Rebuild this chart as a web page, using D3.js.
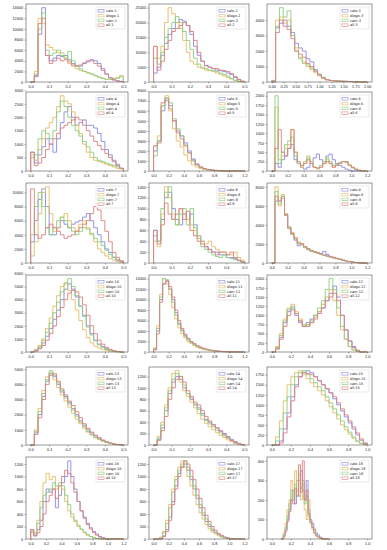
<!DOCTYPE html>
<html>
<head>
<meta charset="utf-8">
<script src="https://cdn.jsdelivr.net/npm/d3@7"></script>
<style>
  body { margin: 0; background: #fff; }
  svg { display: block; font-family: "DejaVu Sans", sans-serif; }
</style>
</head>
<body>
<div id="container"></div>
<script>
// series names and colours
var seriesNames = ["calo", "dlogo", "cam", "all"]
var seriesColors = ["#8a8ae0", "#e6bc66", "#8ccf7e", "#de7f7f"]

// per panel axes
var xMax = [0.5, 0.5, 2.0, 0.5, 1.2, 1.2, 0.5, 0.5, 1.2, 0.5, 1.2, 1.0, 0.5, 0.5, 1.0, 1.2, 1.2, 1.0]
var xTickStep = [0.1, 0.1, 0.25, 0.1, 0.2, 0.2, 0.1, 0.1, 0.2, 0.1, 0.2, 0.2, 0.1, 0.1, 0.2, 0.2, 0.2, 0.2]
var xTickDigits = [1, 1, 2, 1, 1, 1, 1, 1, 1, 1, 1, 1, 1, 1, 1, 1, 1, 1]
var yTickMax = [14000, 25000, 4000, 3000, 8000, 2000, 10000, 1400, 8000, 6000, 14000, 2000, 5000, 1200, 1750, 1200, 1200, 400]
var yTickStep = [2000, 5000, 1000, 500, 1000, 250, 2000, 200, 2000, 1000, 2000, 250, 1000, 200, 250, 200, 200, 100]
var binStart = [0, 0, 0, 0, 0, 0, 0, 0, 0, 0, 0, 0, 0, 0, 0, 0, 0, 0.1]
var binWidth = [0.02, 0.02, 0.08, 0.02, 0.05, 0.04, 0.02, 0.02, 0.04, 0.02, 0.04, 0.04, 0.02, 0.02, 0.04, 0.04, 0.04, 0.02]

var caloCounts = [
  [0,1000,9000,14000,5000,4000,4500,5000,4800,5000,4200,3500,3000,3000,3500,3800,4200,4000,3500,2500,1500,800,400,200,100],
  [3000,5000,9000,13000,16000,18000,20000,21000,20500,19000,16000,12000,9000,7000,5500,5000,4500,4000,3800,3500,3000,2500,1500,800,200],
  [0,3500,3800,4000,3600,3200,2500,2200,2000,1500,1300,800,500,300,150,100,80,60,50,40,30,20,10,0,0],
  [700,300,600,900,1200,1000,700,1200,1800,2200,2400,2000,1700,1800,1900,1700,1700,1600,1400,1100,800,600,400,250,100],
  [2000,3000,6000,7000,6500,5000,4000,3500,2800,2000,1200,700,400,250,150,100,60,30,10,0,0,0,0,0],
  [0,200,100,300,400,600,700,300,200,100,50,100,200,350,450,300,200,400,450,300,200,150,100,50,20,0,0,0,0,0],
  [3000,6000,9000,10500,8000,4000,4000,5000,6000,5500,5000,5500,5800,6000,6500,7000,6000,5000,4000,3000,2000,1500,800,400,200],
  [600,400,800,1200,1300,1000,800,700,900,800,900,700,500,400,300,250,200,200,150,150,100,100,80,50,20],
  [0,6500,6500,7000,5000,3800,3000,2400,1800,2000,1700,1400,1300,1200,1100,1000,1200,900,700,600,500,400,300,200,150,100,50,20,0,0],
  [0,100,300,700,1200,1800,2500,3200,4000,4800,5200,4800,4200,3500,2800,2000,1400,900,600,400,250,150,80,30,0],
  [500,4000,10000,13000,13500,12000,10000,7500,5500,4200,3200,2500,2000,1500,1200,900,700,500,400,300,200,150,100,80,50,30,20,10,0,0],
  [0,100,400,800,1100,1200,1000,800,700,800,900,1000,1100,1200,1400,1600,1800,1500,1000,600,300,150,50,0,0],
  [0,800,2000,3200,4200,4700,4500,4000,3500,3200,2800,2400,2000,1600,1300,1000,800,600,450,300,200,120,60,30,10],
  [0,100,300,600,900,1100,1200,1150,1000,900,800,700,650,550,450,400,350,300,250,200,150,100,60,30,10],
  [0,0,100,400,800,1200,1500,1700,1800,1850,1800,1700,1600,1500,1400,1300,1150,1000,850,700,550,400,250,120,40],
  [150,50,150,300,600,800,750,800,500,700,900,1000,1250,1000,800,600,450,350,250,180,120,80,40,20,10,0,0,0,0,0],
  [0,0,0,50,150,350,600,850,1050,1150,1200,1100,950,800,650,500,380,280,200,140,100,70,50,30,20,10,0,0,0,0],
  [0,20,50,100,150,200,250,180,300,220,350,250,200,300,150,100,80,50,30,20,10,5,0,0,0]
]

var dlogoCounts = [
  [0,2000,12000,11000,7000,6500,6000,5500,5500,4500,3500,3000,2500,2200,2000,1800,1500,1200,900,700,500,500,700,800,1200],
  [12000,8000,12000,20000,25000,23000,20000,18000,14000,10000,7000,6000,5000,4500,4000,3800,3500,3000,2500,2000,1500,1000,500,200,100],
  [100,4000,4200,3800,4000,3000,2200,1600,1300,1000,800,600,400,250,150,100,80,60,50,40,30,20,10,0,0],
  [600,400,800,1200,1600,1800,2000,2400,2800,2600,2500,2200,1700,1400,1000,700,500,400,350,300,250,200,150,100,80],
  [2500,3500,6500,7500,6000,4200,3000,2400,1600,1000,600,400,250,150,100,60,30,10,0,0,0,0,0,0],
  [0,1700,300,400,600,700,1100,500,200,100,200,400,250,100,50,100,200,300,200,100,150,200,250,250,150,100,50,20,0,0],
  [1000,3000,7000,10000,10800,7000,4500,5000,6500,7000,6000,5000,4500,5500,6000,5000,4000,3000,2000,1500,1000,600,400,200,100],
  [400,300,900,1400,1200,900,700,1000,900,800,700,600,500,400,350,400,300,250,200,200,150,150,200,100,50],
  [0,8000,6000,7200,5200,3800,3200,2700,2200,2000,1700,1500,1300,1200,1100,900,800,700,650,600,500,400,300,200,150,100,50,20,0,0],
  [0,200,500,1000,1800,2600,3500,4300,5000,5300,4700,4000,3200,2400,1700,1100,700,450,300,200,120,60,30,10,0],
  [800,5000,11000,14000,13000,11000,8500,6300,4600,3500,2700,2000,1600,1200,900,700,500,380,280,200,150,100,70,50,30,20,10,0,0,0],
  [0,150,500,900,1200,1300,1100,900,750,700,800,950,1100,1300,1500,1700,1400,1000,600,350,150,60,20,0,0],
  [0,1000,2400,3600,4500,4800,4300,3800,3300,2900,2500,2100,1700,1400,1100,850,650,480,350,250,160,100,50,20,10],
  [0,150,400,700,1000,1250,1300,1100,950,850,750,650,550,450,380,320,270,220,170,130,90,60,30,15,5],
  [0,200,600,1100,1500,1700,1800,1850,1750,1650,1550,1450,1350,1250,1100,950,800,650,500,380,270,170,90,40,10],
  [100,100,300,600,900,1050,950,1000,800,850,800,600,450,350,280,200,150,100,60,40,20,10,0,0,0,0,0,0,0,0],
  [0,0,30,120,300,550,800,1000,1150,1250,1150,1000,850,700,550,420,320,230,160,110,80,50,30,20,10,0,0,0,0,0],
  [0,30,80,150,200,300,220,350,250,300,200,280,150,100,200,80,50,30,20,10,5,0,0,0,0]
]

var camCounts = [
  [0,1500,10000,13000,6000,5000,5500,6000,5000,4500,5800,4000,3000,2500,2000,1700,1500,1200,900,700,500,500,600,700,1000],
  [8000,6000,10000,15000,18000,20000,22000,20000,17000,14000,11000,8000,6000,5000,4500,4000,3800,3500,3000,2500,2000,1200,600,300,100],
  [100,3600,4800,4200,4600,3000,2000,1500,1200,1100,900,700,500,300,150,100,80,60,50,40,30,20,10,0,0],
  [500,600,1200,1500,1400,1200,1500,2200,2600,2400,2000,1700,1500,1300,1100,900,700,500,400,350,300,250,200,150,100],
  [1500,3000,6500,7300,6800,5200,4200,3500,2600,1800,1000,600,350,200,120,80,50,20,10,0,0,0,0,0],
  [0,2000,200,500,700,800,900,400,200,150,250,350,200,100,80,150,250,350,250,150,180,230,250,220,150,80,40,10,0,0],
  [4000,8000,10000,8000,5000,4000,5000,6000,6500,6000,5000,4500,4000,4500,5000,4800,4200,3500,3000,2500,1800,1200,800,500,300],
  [500,400,1000,1300,1400,800,700,900,1000,700,1000,650,450,300,250,200,150,120,100,150,100,80,60,40,20],
  [0,7500,6200,7000,5000,3700,3000,2500,2000,1900,1600,1400,1200,1100,1000,900,800,700,600,500,450,400,300,200,150,100,50,20,0,0],
  [0,150,400,900,1500,2200,3000,3800,4600,5200,5600,5000,4300,3500,2700,1900,1300,850,550,350,200,120,60,20,0],
  [600,4500,10500,14000,13800,12000,9500,7000,5200,4000,3000,2300,1800,1400,1100,800,600,450,350,250,180,130,90,60,40,20,10,0,0,0],
  [0,120,450,850,1150,1250,1050,850,700,750,850,1000,1200,1400,1700,2000,1700,1200,700,350,150,60,20,0,0],
  [0,900,2200,3400,4300,4900,4600,4100,3600,3100,2700,2300,1900,1500,1200,900,700,500,380,260,170,110,60,30,10],
  [0,120,350,650,950,1150,1250,1200,1050,900,820,720,620,520,430,370,320,260,210,160,120,80,40,20,5],
  [0,100,400,800,1200,1500,1700,1800,1850,1750,1650,1550,1450,1350,1200,1050,900,750,600,450,320,200,100,40,10],
  [120,80,250,500,700,750,800,900,850,900,850,700,550,400,300,220,160,110,70,40,20,10,0,0,0,0,0,0,0,0],
  [0,0,20,100,250,500,750,950,1100,1200,1250,1150,1000,850,700,550,420,320,230,160,110,70,40,20,10,0,0,0,0,0],
  [0,20,60,120,180,250,200,280,220,330,260,300,180,220,120,80,60,40,20,10,5,0,0,0,0]
]

var allCounts = [
  [0,1200,11000,12000,5000,3500,4000,4500,4000,4200,3800,3200,3000,3200,3600,4000,4000,3500,3000,2200,1500,800,400,200,100],
  [12000,4000,7000,11000,14000,17000,18000,19000,20000,19000,17000,14000,10000,7000,5500,5000,4500,4500,4000,3800,3500,2800,1800,900,300],
  [50,3200,4000,3600,3400,2800,2000,1800,1600,1200,1000,700,450,250,150,100,80,60,50,40,30,20,10,0,0],
  [700,200,300,500,800,1000,1200,1400,1600,1700,1800,1900,2000,1900,1700,1500,1300,1100,950,800,650,500,350,200,100],
  [2500,2800,6800,7200,6200,5000,3800,3200,2500,1800,1100,650,400,250,150,100,60,30,10,0,0,0,0,0],
  [0,600,1100,500,400,600,1100,500,250,150,200,300,200,100,80,100,200,250,200,100,150,200,250,250,160,100,50,20,0,0],
  [10500,4000,3500,4000,5000,5500,5000,4500,4000,3500,3800,4000,4500,5000,5500,6000,7000,8000,7500,6000,4500,3000,1500,800,300],
  [600,350,700,1100,900,800,900,1000,800,950,600,500,400,350,300,250,200,150,200,200,150,200,100,50,20],
  [0,7000,6500,6800,5100,3600,3100,2600,2100,2000,1700,1500,1300,1200,1050,950,850,750,650,550,450,380,280,200,150,100,50,20,0,0],
  [0,80,250,500,900,1400,2000,2700,3400,4000,4500,4700,4600,4200,3600,2800,2000,1400,900,600,350,200,100,40,0],
  [400,3500,9500,13000,13600,12500,10500,8000,6000,4500,3400,2600,2000,1600,1200,950,720,520,400,300,220,160,110,80,50,30,20,10,0,0],
  [0,80,350,700,1000,1150,1050,850,700,700,800,900,1050,1200,1400,1500,1600,1400,1000,600,300,120,40,0,0],
  [0,700,1800,3000,4000,4600,4700,4200,3700,3300,2900,2600,2200,1800,1400,1100,850,650,480,330,220,140,70,30,10],
  [0,80,250,500,800,1000,1150,1200,1100,950,850,750,700,600,500,420,360,300,240,180,130,80,40,20,5],
  [0,0,50,300,700,1100,1450,1700,1800,1780,1750,1700,1600,1500,1400,1300,1200,1050,900,750,600,450,300,150,50],
  [150,50,100,200,400,600,700,800,650,850,1000,1100,1050,900,750,600,450,330,230,160,100,60,30,10,0,0,0,0,0,0],
  [0,0,0,40,120,300,550,800,1000,1150,1250,1200,1100,950,800,650,500,380,280,200,140,90,60,30,15,0,0,0,0,0],
  [0,10,40,90,140,200,180,260,220,380,240,400,200,250,130,90,60,30,15,10,5,0,0,0,0]
]

// layout of the grid
var colLeft = [26, 149, 267]
var colWidth = [102, 100, 105]
var rowTop = [4, 92, 183, 275, 367, 457]
var rowHeight = [78, 79, 80, 77, 78, 82]

var svg = d3.select("#container").append("svg")
    .attr("width", 387)
    .attr("height", 550)

var allSeries = [caloCounts, dlogoCounts, camCounts, allCounts]

for (var p = 0; p < 18; p++) {
  drawPanel(p)
}

function drawPanel(p) {
  var col = p % 3, row = Math.floor(p / 3)
  var x0 = colLeft[col], y0 = rowTop[row]
  var w = colWidth[col], h = rowHeight[row]

  var g = svg.append("g").attr("transform", "translate(" + x0 + "," + y0 + ")")

  var pad = xMax[p] * 0.05
  var x = d3.scaleLinear().domain([-pad, xMax[p] + pad]).range([0, w])
  var peak = d3.max(allSeries, function(s) { return d3.max(s[p]) })
  var y = d3.scaleLinear().domain([0, peak * 1.05]).range([h, 0])

  // histogram outlines
  allSeries.forEach(function(s, i) {
    var counts = s[p]
    var pts = [[binStart[p], 0]]
    counts.forEach(function(c, k) { pts.push([binStart[p] + k * binWidth[p], c]) })
    pts.push([binStart[p] + counts.length * binWidth[p], 0])
    var line = d3.line()
        .x(function(d) { return x(d[0]) })
        .y(function(d) { return y(d[1]) })
        .curve(d3.curveStepAfter)
    g.append("path")
        .attr("d", line(pts))
        .attr("fill", "none")
        .attr("stroke", seriesColors[i])
        .attr("stroke-width", 1)
        .attr("opacity", 0.9)
  })

  var xTicks = d3.range(0, xMax[p] + 1e-9, xTickStep[p])
  var yTicks = d3.range(0, yTickMax[p] + 1, yTickStep[p])

  var xAxis = g.append("g")
      .attr("transform", "translate(0," + h + ")")
      .call(d3.axisBottom(x).tickValues(xTicks).tickFormat(d3.format("." + xTickDigits[p] + "f")).tickSize(1.5).tickPadding(1.5))
  var yAxis = g.append("g")
      .call(d3.axisLeft(y).tickValues(yTicks).tickFormat(d3.format("d")).tickSize(1.5).tickPadding(1.5))

  ;[xAxis, yAxis].forEach(function(a) {
    a.select(".domain").remove()
    a.selectAll("line").attr("stroke", "#333").attr("stroke-width", 0.4)
    a.selectAll("text").attr("font-size", "3.8px").attr("fill", "#222")
  })

  g.append("rect")
      .attr("width", w)
      .attr("height", h)
      .attr("fill", "none")
      .attr("stroke", "#333")
      .attr("stroke-width", 0.5)

  // legend
  var lw = 29, lh = 22
  var leg = g.append("g").attr("transform", "translate(" + (w - lw - 3) + ",3)")
  leg.append("rect")
      .attr("width", lw)
      .attr("height", lh)
      .attr("fill", "#fff")
      .attr("fill-opacity", 0.8)
      .attr("stroke", "#ccc")
      .attr("stroke-width", 0.4)
  seriesNames.forEach(function(n, i) {
    leg.append("rect")
        .attr("x", 2)
        .attr("y", 2.5 + i * 4.8)
        .attr("width", 6)
        .attr("height", 2.6)
        .attr("fill", "none")
        .attr("stroke", seriesColors[i])
        .attr("stroke-width", 0.6)
    leg.append("text")
        .attr("x", 10)
        .attr("y", 5 + i * 4.8)
        .attr("font-size", "3.5px")
        .attr("fill", "#222")
        .text(n + "-" + (p + 1))
  })
}
</script>
</body>
</html>
